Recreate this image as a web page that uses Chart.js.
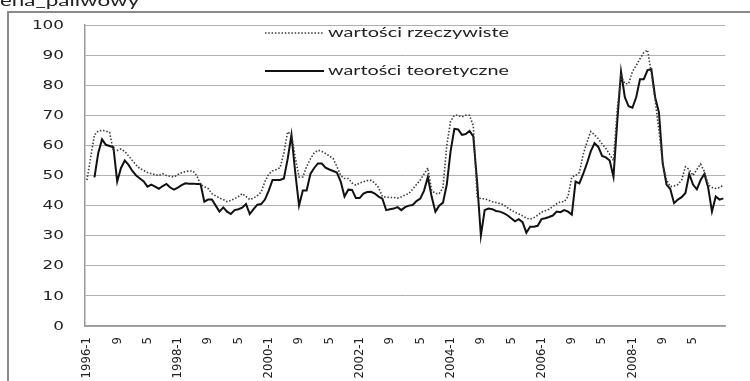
<!DOCTYPE html>
<html>
<head>
<meta charset="utf-8">
<script src="https://cdn.jsdelivr.net/npm/chart.js@4.4.1/dist/chart.umd.min.js"></script>
<style>
  html, body { margin: 0; padding: 0; background: #fff; overflow: hidden; }
  #wrap { position: relative; width: 750px; height: 381px; }
</style>
</head>
<body>
<div id="wrap"><canvas id="chart" width="750" height="381"></canvas></div>
<script>
// Monthly categories: January shows "YYYY-1", other months only the month number
const firstYear = 1996;
const monthCount = 169;               // 1996-1 .. 2010-1
const categories = [];
for (let i = 0; i < monthCount; i++) {
  const month = (i % 12) + 1;
  categories.push(month === 1 ? `${firstYear + Math.floor(i / 12)}-1` : String(month));
}
const labelEvery = 8;                 // one axis label every 8 months
const lastLabelled = 160;             // 2009-5 is the final labelled month

const seriesNames = ['wartości rzeczywiste', 'wartości teoretyczne'];
const titleText = 'ena_paliwowy';

// actual values, one row per year
const actualValues = [
  48.5, 56, 63.5, 64.8, 65, 64.8, 64.3, 58, 58.3, 58.8, 58, 56.5,
  55, 53.5, 52.3, 51.7, 51, 50.6, 50.3, 50, 50.6, 50, 49.7, 49.5,
  50.3, 50.9, 51.3, 51.5, 51.5, 50, 47, 46.3, 45.7, 44, 43.2, 42.5,
  42, 41.3, 41.7, 42.3, 43, 44, 43, 42, 42.5, 43.3, 44.5, 48,
  50.5, 51.5, 52, 52.6, 57.5, 64.5, 63.5, 56, 49.5, 49.5, 53, 55.5,
  57.5, 58.4, 58, 57.3, 56.5, 55.6, 53, 50, 49, 49, 47.5, 46.8,
  47.5, 47.9, 48.3, 48.4, 47.5, 46, 43, 42.8, 42.7, 42.7, 42.5, 42.9,
  43.5, 44, 45.5, 47, 48.5, 50.5, 52.5, 45, 44, 44, 46, 60,
  68, 70, 70, 69.5, 70, 70, 66.5, 43, 42.3, 42.3, 41.8, 41.3,
  41, 40.7, 40.3, 39.3, 38.5, 37.8, 37.2, 36.6, 35.8, 35.5, 36, 36.8,
  37.8, 38.3, 38.8, 39.7, 40.6, 41.3, 41.3, 43, 49.5, 50, 51, 57,
  61, 64.6, 63.5, 62.2, 60.5, 59, 57, 55, 72, 83, 80.5, 80.5,
  84.5, 86.5, 88.8, 90.8, 91.7, 84, 75, 65, 54, 48.5, 46.3, 46.5,
  47, 48.5, 52.9, 52, 50, 52, 53.8, 51.3, 47, 46, 45.7, 46,
  46.8
];

// model (fitted) values, one row per year
const fittedValues = [
  null, null, 49.4, 57.5, 62, 60.2, 59.8, 59.4, 48, 52.5, 55, 53.5,
  51.5, 50, 49, 48, 46.3, 47, 46.3, 45.6, 46.5, 47.2, 46, 45.3,
  46, 46.8, 47.4, 47.3, 47.3, 47.2, 47.2, 41.3, 42, 42, 40, 38,
  39.4, 38, 37.2, 38.5, 38.8, 39.3, 40.5, 37.2, 38.8, 40.3, 40.5, 42,
  45, 48.5, 48.5, 48.5, 49, 55.5, 63.5, 51, 40, 45, 45, 50.5,
  52.5, 54, 54, 52.6, 52, 51.5, 51, 48, 43, 45.3, 45.2, 42.5,
  42.5, 44, 44.5, 44.6, 44, 43, 42.3, 38.5, 38.8, 39, 39.5, 38.5,
  39.5, 40, 40.2, 41.5, 42.3, 45, 49.5, 43, 38, 40, 41, 47,
  58, 65.5, 65.3, 63.5, 63.8, 64.8, 63, 48, 30, 38.5, 39, 38.8,
  38.2, 38, 37.5, 36.8, 35.8, 34.8, 35.5, 34.5, 31, 33, 33, 33.3,
  35.5, 35.8, 36.2, 36.7, 38, 37.8, 38.5, 38, 37, 48, 47.4, 50.5,
  54, 58, 60.7, 59.5, 56.5, 56, 55, 49.6, 68, 84.5, 76, 73,
  72.5, 76, 82, 82, 85, 85.3, 76, 71, 54, 47, 45.5, 40.8,
  42, 42.8, 44.2, 50.5, 47, 45.4, 48.5, 50.5, 46, 38, 43, 42,
  42.4
];

const STRETCH = 1.4;   // horizontal stretch of the wide text faces

// draws text widened horizontally around its anchor
function wideText(ctx, text, x, y, font, align, color, stretch) {
  ctx.save();
  ctx.font = font;
  ctx.fillStyle = color;
  ctx.textBaseline = 'middle';
  ctx.textAlign = align;
  ctx.translate(x, y);
  ctx.scale(stretch, 1);
  ctx.fillText(text, 0, 0);
  ctx.restore();
}

const decorPlugin = {
  id: 'decor',
  beforeDraw(chart) {
    const ctx = chart.ctx;
    ctx.save();
    ctx.fillStyle = '#ffffff';
    ctx.fillRect(0, 0, chart.width, chart.height);
    // outer chart frame
    ctx.strokeStyle = '#8a8a8a';
    ctx.lineWidth = 2;
    ctx.strokeRect(8, 12, chart.width + 20, chart.height + 20);
    ctx.restore();
    // heading, partly cut off at the top edge
    wideText(ctx, titleText, 0, 1, '16px Lato', 'left', '#222', STRETCH);
  },
  afterDraw(chart) {
    const ctx = chart.ctx;
    const y = chart.scales.y;
    // value labels on the vertical axis
    y.ticks.forEach(t => {
      wideText(ctx, String(t.value), y.right - 21, y.getPixelForValue(t.value) + 0.5,
               '12px "DejaVu Sans"', 'right', '#222', STRETCH);
    });
    // legend inside the plot area
    const rows = [33, 71];
    chart.data.datasets.forEach((ds, i) => {
      const ly = rows[i];
      ctx.save();
      ctx.strokeStyle = ds.borderColor;
      ctx.lineWidth = ds.borderWidth;
      ctx.setLineDash(ds.borderDash || []);
      ctx.beginPath();
      ctx.moveTo(265, ly);
      ctx.lineTo(324, ly);
      ctx.stroke();
      ctx.restore();
      ctx.save();
      ctx.font = '13px Lato';
      const w = ctx.measureText(ds.label).width;
      ctx.restore();
      wideText(ctx, ds.label, 328, ly, '13px Lato', 'left', '#222', 181 / w);
    });
  }
};

new Chart(document.getElementById('chart'), {
  type: 'line',
  data: {
    labels: categories,
    datasets: [
      {
        label: seriesNames[0],
        data: actualValues,
        borderColor: '#3a3a3a',
        borderWidth: 1.6,
        borderDash: [1.5, 1.8],
        pointRadius: 0,
        tension: 0,
        fill: false
      },
      {
        label: seriesNames[1],
        data: fittedValues,
        borderColor: '#111111',
        borderWidth: 2,
        pointRadius: 0,
        tension: 0,
        fill: false
      }
    ]
  },
  options: {
    responsive: false,
    animation: false,
    devicePixelRatio: 1,
    layout: { padding: { top: 25, right: 24, left: 0, bottom: 0 } },
    plugins: {
      legend: { display: false },
      tooltip: { enabled: false }
    },
    scales: {
      x: {
        type: 'category',
        offset: true,
        grid: { display: false, drawTicks: false },
        border: { display: true, color: '#9a9a9a', width: 1.5 },
        ticks: {
          autoSkip: false,
          minRotation: 90,
          maxRotation: 90,
          padding: 11,
          color: '#222',
          font: { family: '"Liberation Sans Narrow", "DejaVu Sans Condensed", sans-serif', size: 13 },
          callback(value, index) {
            return (index % labelEvery === 0 && index <= lastLabelled) ? this.getLabelForValue(value) : '';
          }
        },
        afterFit(scale) { scale.height = 55; }
      },
      y: {
        min: 0,
        max: 100,
        ticks: { stepSize: 10, display: false },
        grid: { color: '#b0b0b0', lineWidth: 1, drawTicks: false },
        border: { display: true, color: '#9a9a9a', width: 1.5 },
        afterFit(scale) { scale.width = 85; }
      }
    }
  },
  plugins: [decorPlugin]
});
</script>
</body>
</html>
